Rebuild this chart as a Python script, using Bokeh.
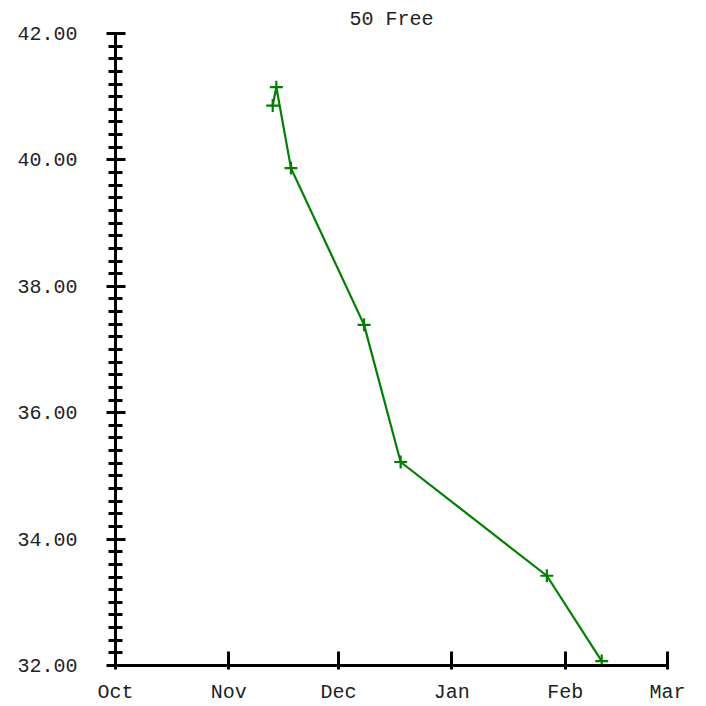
import pandas as pd
from bokeh.plotting import figure
from bokeh.models import Range1d, SingleIntervalTicker, MonthsTicker, DatetimeTickFormatter, NumeralTickFormatter
from bokeh.embed import file_html
from bokeh.resources import INLINE

# data
dates = ["2022-11-13", "2022-11-14", "2022-11-18", "2022-12-08", "2022-12-18", "2023-01-27", "2023-02-11"]
times = [40.86, 41.15, 39.87, 37.39, 35.22, 33.42, 32.07]
x_start, x_end = "2022-10-01", "2023-03-01"
y_start, y_end = 32.0, 42.0
title = "50 Free"

FONT = "Liberation Mono"
x = pd.to_datetime(dates)

p = figure(width=706, height=706, output_backend="svg", toolbar_location=None,
           x_axis_type="datetime",
           x_range=Range1d(pd.Timestamp(x_start), pd.Timestamp(x_end)),
           y_range=Range1d(y_start, y_end),
           min_border_left=115, min_border_right=39, min_border_top=33, min_border_bottom=40)
p.outline_line_color = None
p.grid.visible = False
p.background_fill_color = "white"
p.border_fill_color = "white"

p.title.text = title
p.title.align = "center"
p.title.offset = 5
p.title.text_font = FONT
p.title.text_font_size = "20px"
p.title.text_font_style = "normal"
p.title.text_color = "#222222"
p.title.standoff = 6

p.line(x, times, line_color="#008000", line_width=2.2)
p.scatter(x, times, marker="cross", size=13, line_color="#008000", line_width=2.2)

# y axis
ya = p.yaxis[0]
ya.ticker = SingleIntervalTicker(interval=2, num_minor_ticks=10)
ya.formatter = NumeralTickFormatter(format="0.00")
ya.axis_line_width = 3
ya.major_tick_line_width = 3
ya.minor_tick_line_width = 3
ya.major_tick_in = 10
ya.major_tick_out = 9
ya.minor_tick_in = 7
ya.minor_tick_out = 7
ya.major_label_standoff = 29
ya.major_label_text_font = FONT
ya.major_label_text_font_size = "20px"
ya.major_label_text_color = "#222222"

# x axis
xa = p.xaxis[0]
xa.ticker = MonthsTicker(months=list(range(12)))
xa.formatter = DatetimeTickFormatter(months="%b", days="%b")
xa.axis_line_width = 3
xa.major_tick_line_width = 3
xa.major_tick_in = 14
xa.major_tick_out = 4
xa.minor_tick_line_color = None
xa.major_label_standoff = 11
xa.major_label_text_font = FONT
xa.major_label_text_font_size = "20px"
xa.major_label_text_color = "#222222"

open("out.html", "w").write(file_html(p, INLINE))
